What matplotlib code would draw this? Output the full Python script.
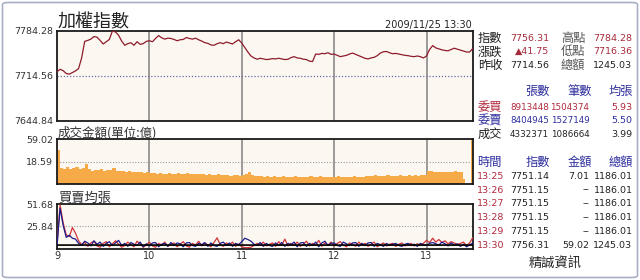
"""Intraday chart of the TAIEX (加權指數) with volume and average lot panels."""

import matplotlib.pyplot as plt
from matplotlib.patches import FancyBboxPatch

# Index, every 2 minutes from 9:00 to 13:30
idx_min = list(range(0, 272, 2))
idx_val = [
    7720.8, 7724.5, 7722.4, 7718.0, 7717.0, 7719.5, 7722.0, 7725.5, 7742.0, 7767.5,
    7769.0, 7771.0, 7775.0, 7774.0, 7769.0, 7763.5, 7767.0, 7770.5, 7783.5, 7782.0,
    7777.0, 7768.0, 7761.5, 7764.0, 7765.5, 7761.5, 7767.0, 7763.0, 7764.0, 7767.5,
    7768.5, 7767.0, 7772.0, 7776.5, 7773.0, 7771.0, 7772.5, 7772.0, 7770.5, 7768.5,
    7770.0, 7770.5, 7773.5, 7772.0, 7771.0, 7772.5, 7770.0, 7768.0, 7765.5, 7764.5,
    7762.0, 7761.5, 7764.0, 7765.5, 7764.0, 7766.5, 7765.0, 7763.5, 7767.0, 7770.0,
    7765.0, 7758.0, 7751.0, 7745.0, 7742.0, 7740.0, 7741.5, 7740.5, 7739.5, 7740.0,
    7741.0, 7740.5, 7741.5, 7740.5, 7739.5, 7740.0, 7742.5, 7744.0, 7742.0, 7741.5,
    7740.0, 7739.5, 7737.0, 7736.5, 7748.0, 7747.5, 7749.0, 7748.5, 7750.0, 7747.5,
    7748.0, 7746.0, 7744.0, 7745.0, 7746.0, 7748.0, 7749.5, 7747.5, 7745.5, 7743.5,
    7741.5, 7740.5, 7742.0, 7743.0, 7745.5, 7749.5, 7751.5, 7752.0, 7750.0, 7748.5,
    7749.0, 7748.0, 7747.0, 7746.0, 7745.5, 7744.5, 7744.0, 7745.0, 7744.0, 7742.0,
    7745.0, 7755.0, 7761.0, 7757.5, 7756.0, 7754.5, 7753.5, 7753.0, 7755.0, 7757.0,
    7755.5, 7754.0, 7752.5, 7751.15, 7751.15, 7756.31,
]
idx_low, idx_prev, idx_high = 7644.84, 7714.56, 7784.28

# Turnover (億), bar start minute and value
vol_min = list(range(0, 264, 2)) + [264, 269]
vol_width = [2] * 132 + [1.2, 1]
vol_val = [
    45.0, 21.5, 20.0, 22.5, 20.5, 21.0, 23.0, 20.0, 21.5, 26.0,
    19.5, 18.0, 19.0, 18.5, 19.5, 18.0, 18.5, 19.0, 22.0, 17.5,
    17.0, 18.0, 16.5, 17.0, 16.0, 16.5, 15.5, 16.5, 15.0, 15.5,
    15.0, 14.5, 14.0, 15.0, 14.0, 13.5, 14.5, 14.0, 13.5, 14.5,
    14.0, 13.5, 14.5, 13.5, 14.0, 13.0, 13.5, 14.0, 12.5, 13.0,
    12.5, 12.0, 13.0, 12.0, 12.5, 12.0, 11.5, 12.5, 12.0, 11.5,
    12.0, 13.0, 16.5, 12.0, 11.0, 10.5, 11.0, 10.0, 10.5, 10.0,
    10.5, 10.0, 9.5, 10.5, 10.0, 9.5, 10.0, 10.5, 9.5, 10.0,
    9.5, 10.0, 10.5, 9.5, 10.0, 10.5, 9.5, 10.0, 10.0, 9.5,
    10.0, 10.5, 10.0, 9.5, 10.0, 9.5, 10.5, 10.0, 9.5, 10.0,
    11.0, 11.5, 11.0, 12.0, 11.5, 11.0, 11.5, 12.0, 11.5, 11.0,
    11.5, 12.0, 11.5, 11.0, 12.0, 11.5, 12.0, 11.5, 12.5, 12.0,
    17.5, 17.0, 16.0, 15.5, 16.0, 15.5, 16.5, 16.0, 15.5, 17.0, 16.5, 16.0,
    7.01, 59.02,
]
vol_max, vol_label = 59.02, 18.59

# Average lot size of bids / asks, every 2 minutes
lot_bid = [
    4.0, 51.0, 30.0, 16.0, 14.0, 24.5, 18.0, 9.0, 4.5, 7.0,
    2.5, 6.5, 8.5, 3.0, 1.5, 6.0, 8.0, 2.0, 5.5, 9.0,
    5.0, 1.5, 3.5, 7.5, 4.5, 2.0, 8.5, 5.5, 1.5, 4.0,
    7.5, 3.0, 1.5, 6.0, 4.0, 7.5, 2.5, 5.0, 6.5, 2.0,
    5.0, 8.0, 3.0, 1.5, 6.0, 4.0, 8.5, 3.0, 6.0, 4.5,
    2.0, 7.0, 12.5, 4.5, 2.5, 6.5, 4.0, 7.5, 2.5, 5.0,
    2.0, 1.0, 1.0, 1.5, 3.5, 6.0, 4.0, 7.5, 3.0, 5.0,
    6.5, 2.5, 8.0, 4.0, 11.0, 3.0, 6.0, 4.0, 7.5, 2.5,
    5.0, 8.5, 3.0, 6.0, 4.0, 9.5, 2.5, 6.5, 4.0, 7.5,
    3.0, 6.0, 8.0, 4.0, 2.0, 6.5, 5.0, 2.5, 7.5, 4.0,
    6.0, 2.5, 5.0, 7.5, 2.0, 4.5, 6.5, 3.0, 5.0, 6.0,
    2.5, 5.0, 6.5, 3.0, 4.5, 6.0, 3.0, 5.5, 4.0, 6.0,
    9.5, 7.0, 12.0, 7.5, 10.5, 7.0, 9.0, 5.5, 8.0, 6.5,
    4.5, 6.0, 7.5, 3.5, 6.5, 12.5,
]
lot_ask = [
    3.0, 47.0, 27.0, 13.0, 15.5, 12.0, 11.0, 6.0, 4.0, 8.5,
    6.5, 3.0, 9.0, 5.0, 7.5, 2.5, 6.0, 8.0, 3.5, 6.5,
    9.5, 3.5, 6.0, 2.5, 7.0, 5.0, 3.5, 7.5, 2.0, 5.5,
    3.0, 6.5, 7.0, 2.0, 5.0, 6.0, 2.5, 7.0, 3.5, 6.5,
    5.5, 2.0, 6.5, 7.0, 3.5, 2.5, 6.0, 4.5, 7.0, 2.5,
    6.5, 3.5, 2.5, 6.0, 7.5, 3.5, 6.5, 2.5, 6.0, 4.5,
    8.0, 12.0, 10.5, 8.5, 5.0, 3.5, 7.0, 2.5, 6.0, 3.5,
    2.5, 6.5, 3.5, 7.0, 2.5, 6.0, 4.5, 7.5, 2.0, 6.5,
    7.0, 2.5, 6.0, 3.5, 7.5, 2.0, 6.5, 8.5, 3.5, 6.0,
    6.5, 3.5, 2.5, 7.5, 5.5, 3.5, 6.5, 7.0, 2.5, 6.0,
    3.5, 6.5, 7.0, 2.5, 6.0, 4.5, 2.5, 6.0, 3.5, 5.0,
    6.0, 3.5, 2.5, 5.0, 6.0, 3.5, 5.0, 2.5, 6.0, 4.5,
    3.5, 6.0, 7.0, 5.5, 4.0, 7.5, 5.5, 3.0, 6.5, 4.0,
    5.5, 2.5, 5.0, 2.0, 4.0, 6.5,
]
deal_min = [0, 270]
deal_avg = [4.0, 3.99]
lot_max = 51.68

hour_min = [0, 60, 120, 180, 240]
hour_labels = ["9", "10", "11", "12", "13"]

# Quote box
quote_rows = [
    ("指數", "7756.31", "高點", "7784.28", "#A52A3A"),
    ("漲跌", "▲41.75", "低點", "7716.36", "#A52A3A"),
    ("昨收", "7714.56", "總額", "1245.03", "#222222"),
]
order_head = ["張數", "筆數", "均張"]
order_rows = [
    ("委買", "8913448", "1504374", "5.93", "#B0283C"),
    ("委賣", "8404945", "1527149", "5.50", "#2E2E9E"),
    ("成交", "4332371", "1086664", "3.99", "#222222"),
]
tick_head = ["時間", "指數", "金額", "總額"]
tick_time = ["13:25", "13:26", "13:27", "13:28", "13:29", "13:30"]
tick_index = ["7751.14", "7751.15", "7751.15", "7751.15", "7751.15", "7756.31"]
tick_amount = ["7.01", "--", "--", "--", "--", "59.02"]
tick_total = ["1186.01", "1186.01", "1186.01", "1186.01", "1186.01", "1245.03"]

CJK = ["Noto Sans CJK TC", "DejaVu Sans"]
RED = "#A52A3A"
BLUE = "#2E2E9E"
DARK = "#222222"
FACE = "#FCF8F1"
W, H = 640, 280

plt.rcParams["font.family"] = ["DejaVu Sans", "Noto Sans CJK TC"]
fig = plt.figure(figsize=(6.4, 2.8), dpi=100)
fig.patch.set_facecolor("white")


def px(x, y):
    """Pixel position (from top-left) to figure fraction."""
    return x / W, 1 - y / H


def put(x, y, s, ha="left", size=6.8, color=DARK, family=None, **kw):
    fx, fy = px(x, y)
    fig.text(fx, fy, s, ha=ha, va="center", fontsize=size, color=color,
             family=family or ["DejaVu Sans"], **kw)


def panel(top, bottom):
    left, right = 57, 472.7
    ax = fig.add_axes([left / W, 1 - bottom / H, (right - left) / W, (bottom - top) / H])
    ax.set_facecolor(FACE)
    ax.set_xlim(0, 270)
    for spine in ax.spines.values():
        spine.set_linewidth(1.3)
        spine.set_color("#1a1a1a")
    for m in hour_min[1:]:
        ax.axvline(m, color="#8a8a8a", lw=1.2, zorder=1)
    ax.tick_params(length=0, labelsize=6.8, labelcolor="#333333", pad=3)
    ax.set_xticks([])
    return ax


# Index panel
ax_idx = panel(30.5, 121)
ax_idx.set_ylim(idx_low, idx_high)
ax_idx.axhline(idx_prev, color="#6A6AB0", lw=0.9, ls=(0, (1, 1.5)), zorder=1)
ax_idx.plot(idx_min, idx_val, color="#8E1B2B", lw=0.9, zorder=3)
ax_idx.set_yticks([idx_low, idx_prev, idx_high])
ax_idx.set_yticklabels([f"{v:.2f}" for v in (idx_low, idx_prev, idx_high)])

# Volume panel
ax_vol = panel(139.3, 184.3)
ax_vol.set_ylim(0, vol_max)
ax_vol.axhline(vol_max / 2, color="#9a9a9a", lw=0.8, ls=(0, (1, 1.5)), zorder=1)
ax_vol.bar(vol_min, vol_val, width=vol_width, align="edge", color="#F6AA48",
           linewidth=0, zorder=2)
ax_vol.set_yticks([vol_max / 2, vol_max])
ax_vol.set_yticklabels([f"{vol_label:.2f}", f"{vol_max:.2f}"])

# Average lot panel
ax_lot = panel(204.3, 248.5)
ax_lot.set_ylim(0, lot_max)
ax_lot.axhline(lot_max / 2, color="#9a9a9a", lw=0.8, ls=(0, (1, 1.5)), zorder=1)
ax_lot.plot(idx_min, lot_bid, color="#D0343A", lw=0.9, zorder=3)
ax_lot.plot(idx_min, lot_ask, color="#1C1C8C", lw=0.9, zorder=4)
ax_lot.plot(deal_min, deal_avg, color="black", lw=1.2, zorder=5)
ax_lot.set_yticks([lot_max / 2, lot_max])
ax_lot.set_yticklabels([f"{lot_max / 2:.2f}", f"{lot_max:.2f}"])
ax_lot.set_xticks(hour_min)
ax_lot.set_xticklabels(hour_labels)
ax_lot.tick_params(axis="x", pad=2, labelsize=7)

# Titles
put(58, 22, "加權指數", size=13, family=CJK)
put(472, 25, "2009/11/25 13:30", ha="right", size=7)
put(58, 133, "成交金額(單位:億)", size=9, family=CJK, color="#333333")
put(58, 198, "買賣均張", size=9.5, family=CJK, color="#333333")

# Quote box
for i, (lab1, val1, lab2, val2, col) in enumerate(quote_rows):
    y = 38.5 + 13.3 * i
    put(478, y, lab1, size=8.8, family=CJK)
    put(549.5, y, val1, ha="right", color=col if i < 2 else DARK)
    put(561, y, lab2, size=8.8, family=CJK, color="#555555")
    put(632, y, val2, ha="right", color=col if i < 2 else DARK)

# Order box
for x, lab in zip([550, 592, 633], order_head):
    put(x, 91, lab, ha="right", size=8.8, family=CJK, color=BLUE)
for i, (lab, lots, count, avg, col) in enumerate(order_rows):
    y = 107.3 + 13.4 * i
    put(478, y, lab, size=8.8, family=CJK, color=col)
    put(549, y, lots, ha="right", size=6.3, color=col)
    put(589.5, y, count, ha="right", size=6.3, color=col)
    put(632, y, avg, ha="right", color=col)

# Tick table
for x, lab, ha in zip([477, 550, 592, 633], tick_head, ["left", "right", "right", "right"]):
    put(x, 162.7, lab, ha=ha, size=8.8, family=CJK, color=BLUE)
for i in range(len(tick_time)):
    y = 176.3 + 13.75 * i
    put(477, y, tick_time[i], color="#B0283C")
    put(549.5, y, tick_index[i], ha="right")
    put(589.5, y, tick_amount[i], ha="right")
    put(632.5, y, tick_total[i], ha="right")
put(555, 263.5, "精誠資訊", ha="center", size=9.5, family=CJK)

# Frame
fig.patches.append(FancyBboxPatch(
    (2.5 / W, 2.5 / H), 1 - 5 / W, 1 - 5 / H,
    boxstyle="round,pad=0,rounding_size=0.008", transform=fig.transFigure,
    fill=False, edgecolor="#A6B0C2", linewidth=1.2,
))

# Save
plt.savefig("out.png", dpi=100)
